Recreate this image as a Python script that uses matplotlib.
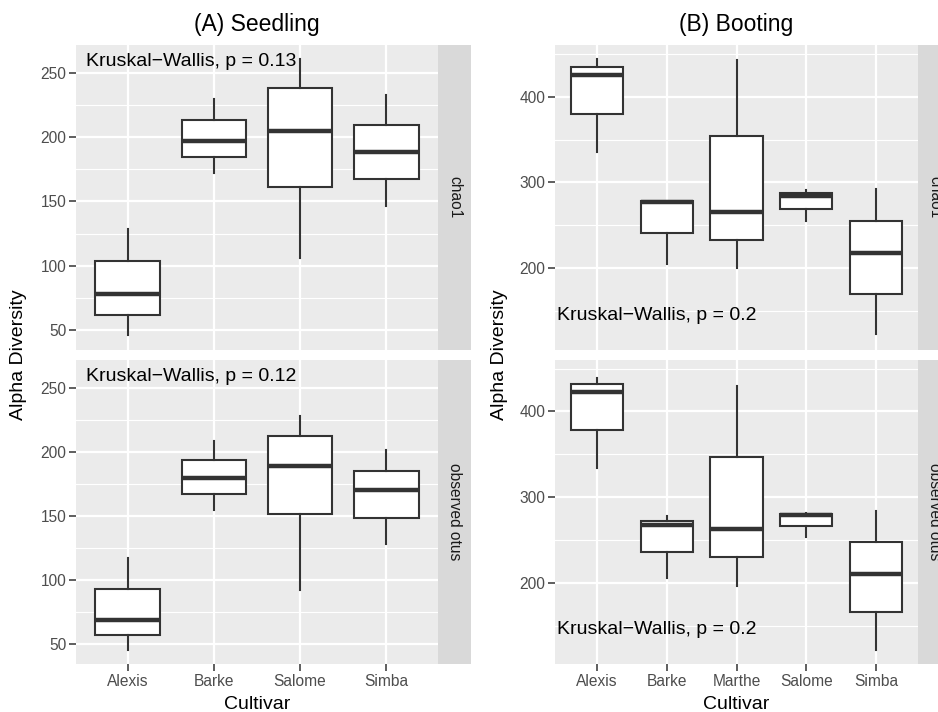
import matplotlib.pyplot as plt
from matplotlib.ticker import FixedLocator

plt.rcParams['font.family'] = ['Liberation Sans', 'DejaVu Sans']

# ---------------- data ----------------
seed_cultivars = ['Alexis', 'Barke', 'Salome', 'Simba']
boot_cultivars = ['Alexis', 'Barke', 'Marthe', 'Salome', 'Simba']

# each row: whisker low, Q1, median, Q3, whisker high
seed_chao1 = [[46.1, 62.1, 77.9, 103.4, 128.7],
              [172.1, 184.7, 197.1, 213.1, 229.4],
              [106.0, 161.0, 204.8, 238.1, 260.8],
              [146.3, 167.2, 188.1, 209.7, 232.5]]
seed_otus = [[45.3, 57.0, 68.6, 92.9, 116.9],
             [154.9, 167.3, 179.7, 193.9, 208.4],
             [92.6, 151.8, 189.3, 212.0, 227.8],
             [127.8, 148.7, 169.9, 185.1, 201.2]]
boot_chao1 = [[335.3, 380.2, 425.6, 434.5, 443.8],
              [205.4, 241.5, 277.5, 279.0, 279.0],
              [200.4, 232.9, 265.5, 354.3, 443.0],
              [255.4, 269.4, 284.1, 287.6, 290.7],
              [123.3, 170.5, 218.2, 255.0, 291.9]]
boot_otus = [[333.7, 377.9, 422.9, 431.8, 439.5],
             [205.0, 236.0, 267.0, 272.5, 277.5],
             [196.1, 230.2, 263.2, 346.5, 429.8],
             [253.0, 266.3, 278.6, 280.6, 281.8],
             [121.3, 165.5, 209.7, 247.3, 283.7]]

facets = ['chao1', 'observed otus']
seed_pvals = ['0.13', '0.12']
boot_pvals = ['0.2', '0.2']

seed_yticks = [50, 100, 150, 200, 250]
seed_yminor = [75, 125, 175, 225]
boot_yticks = [200, 300, 400]
boot_yminor = [150, 250, 350, 450]

DARK = '#333333'
W, H = 938, 712


def rect(l, t, r, b):
    return [l / W, 1 - b / H, (r - l) / W, (b - t) / H]


def ylimits(*groups):
    vals = [v for g in groups for row in g for v in row]
    lo, hi = min(vals), max(vals)
    pad = (hi - lo) * 0.05
    return lo - pad, hi + pad


def draw_panel(ax, summ, cats, ylim, yticks, yminor, show_x):
    ax.set_facecolor('#EBEBEB')
    stats = [dict(whislo=s[0], q1=s[1], med=s[2], q3=s[3], whishi=s[4], label=c)
             for s, c in zip(summ, cats)]
    ax.bxp(stats, positions=range(1, len(cats) + 1), widths=0.75,
           showfliers=False, showcaps=False, patch_artist=True,
           boxprops=dict(facecolor='white', edgecolor=DARK, linewidth=1.5),
           whiskerprops=dict(color=DARK, linewidth=1.5),
           medianprops=dict(color=DARK, linewidth=3.2, solid_capstyle='butt'),
           zorder=3)
    ax.set_xlim(0.4, len(cats) + 0.6)
    ax.set_ylim(*ylim)
    ax.set_yticks(yticks)
    ax.yaxis.set_minor_locator(FixedLocator(yminor))
    ax.set_axisbelow(True)
    ax.grid(which='major', color='white', linewidth=1.6)
    ax.grid(which='minor', axis='y', color='white', linewidth=0.8)
    for sp in ax.spines.values():
        sp.set_visible(False)
    ax.tick_params(which='major', length=5, width=1.1, color=DARK,
                   labelcolor='#4D4D4D', labelsize=11.2, pad=2)
    ax.tick_params(which='minor', length=0)
    if not show_x:
        ax.tick_params(axis='x', length=0, labelbottom=False)


def draw_strip(fig, r, label):
    s = fig.add_axes(r)
    s.set_facecolor('#D9D9D9')
    s.set_xticks([])
    s.set_yticks([])
    for sp in s.spines.values():
        sp.set_visible(False)
    s.text(0.5, 0.5, label, rotation=-90, ha='center', va='center',
           fontsize=11.2, color='#1A1A1A', transform=s.transAxes)


fig = plt.figure(figsize=(W / 100, H / 100), dpi=100)

panels = [
    dict(x=(76, 438), data=[seed_chao1, seed_otus], cats=seed_cultivars,
         ticks=seed_yticks, minor=seed_yminor, pvals=seed_pvals,
         title='(A) Seedling', ylab_x=18.5, pos=(0.028, 0.93)),
    dict(x=(555, 918), data=[boot_chao1, boot_otus], cats=boot_cultivars,
         ticks=boot_yticks, minor=boot_yminor, pvals=boot_pvals,
         title='(B) Booting', ylab_x=499, pos=(0.006, 0.098)),
]
rows = [(45, 350), (360, 664)]

for p in panels:
    l, r = p['x']
    ylim = ylimits(*p['data'])
    for i, (t, b) in enumerate(rows):
        ax = fig.add_axes(rect(l, t, r, b))
        draw_panel(ax, p['data'][i], p['cats'], ylim, p['ticks'], p['minor'], i == 1)
        ax.text(p['pos'][0], p['pos'][1], 'Kruskal\u2212Wallis, p = ' + p['pvals'][i],
                transform=ax.transAxes, ha='left', va='baseline', fontsize=14,
                color='black')
        draw_strip(fig, rect(r, t, r + 33, b), facets[i])
    cx = (l + r) / 2 / W
    fig.text(cx, 1 - 24 / H, p['title'], ha='center', va='center', fontsize=16.5)
    fig.text(cx, 1 - 709 / H, 'Cultivar', ha='center', va='baseline', fontsize=14)
    fig.text(p['ylab_x'] / W, 1 - 354.5 / H, 'Alpha Diversity', rotation=90,
             ha='center', va='center', fontsize=14)

fig.savefig('out.png', dpi=100)
